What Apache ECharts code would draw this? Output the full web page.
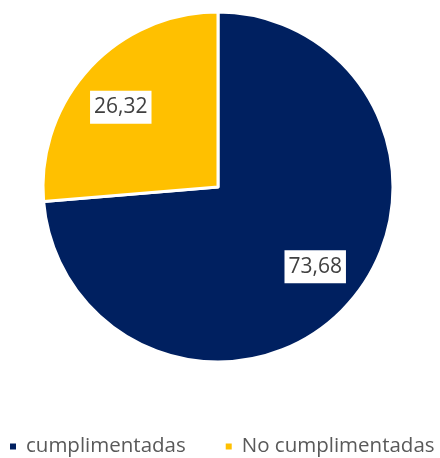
<!DOCTYPE html>
<html>
<head>
<meta charset="utf-8">
<script src="https://cdn.jsdelivr.net/npm/echarts@6/dist/echarts.min.js"></script>
<style>html,body{margin:0;padding:0;background:#fff}#c{width:440px;height:458px}</style>
</head>
<body>
<div id="c"></div>
<script>
const categories = ['cumplimentadas', 'No cumplimentadas'];
const values = [73.68, 26.32];
const colors = ['#002060', '#FFC000'];

const center = [218, 187];
const radius = 175;
const labelScaleX = 1.46;
const labelScaleY = 1.3;

const chart = echarts.init(document.getElementById('c'));
chart.setOption({
  animation: false,
  legend: {
    left: 8,
    right: 0,
    top: 436,
    padding: 0,
    icon: 'rect',
    itemWidth: 8,
    itemHeight: 8,
    itemGap: 38,
    textStyle: { fontFamily: 'Open Sans', fontSize: 20.5, color: '#595959', padding: [0, 0, 0, 4] },
    data: categories
  },
  series: [{
    type: 'pie',
    center: center,
    radius: radius,
    startAngle: 90,
    clockwise: true,
    itemStyle: { borderColor: '#fff', borderWidth: 3 },
    label: {
      position: 'inside',
      formatter: p => p.value.toFixed(2).replace('.', ','),
      fontFamily: 'Open Sans',
      fontSize: 21,
      color: '#404040',
      backgroundColor: '#fff',
      padding: [6, 4, 6, 4]
    },
    labelLine: { show: false },
    labelLayout: function (p) {
      const lx = p.labelRect.x + p.labelRect.width / 2;
      const ly = p.labelRect.y + p.labelRect.height / 2;
      return { x: center[0] + (lx - center[0]) * labelScaleX, y: center[1] + (ly - center[1]) * labelScaleY };
    },
    data: categories.map((c, i) => ({ name: c, value: values[i], itemStyle: { color: colors[i] } }))
  }]
});
</script>
</body>
</html>
